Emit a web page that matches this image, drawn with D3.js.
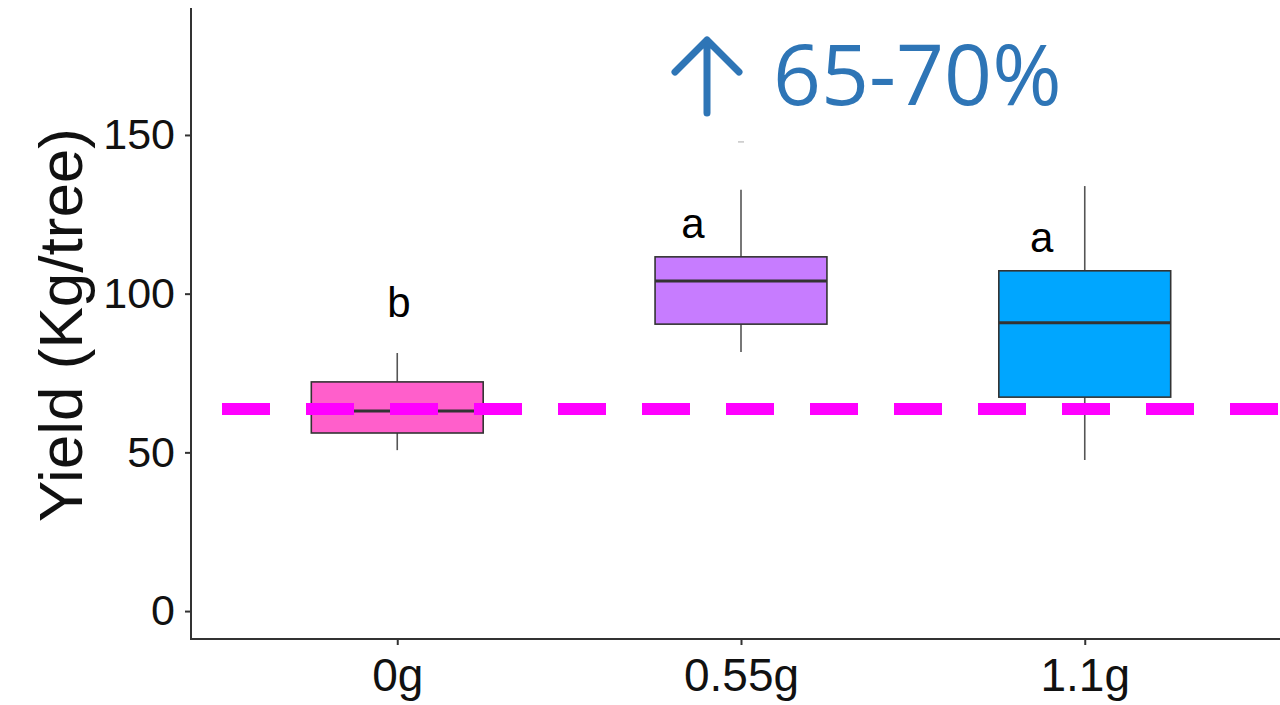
<!DOCTYPE html>
<html>
<head>
<meta charset="utf-8">
<script src="https://cdn.jsdelivr.net/npm/d3@7"></script>
<style>
  html, body { margin: 0; padding: 0; background: #fff; }
  svg { display: block; }
</style>
</head>
<body>
<svg id="chart" width="1280" height="705"></svg>
<script>
// ---- data ----
const categories = ["0g", "0.55g", "1.1g"];
const whiskerLow = [50.7, 81.6, 47.6];
const q1 = [56.1, 90.4, 67.4];
const medians = [63.0, 104.0, 90.8];
const q3 = [72.2, 111.6, 107.2];
const whiskerHigh = [81.3, 132.7, 133.9];
const outliers = [[], [147.8], []];
const boxColors = ["#FF5FCB", "#C77CFF", "#00A6FF"];
const letters = ["b", "a", "a"];
const letterY = [92.7, 117.6, 113.1];
const letterNudge = [0.005, -0.14, -0.125];
const yTicks = [0, 50, 100, 150];
const refLine = 63.7;
const annotation = "65-70%";

// ---- layout ----
const svg = d3.select("#chart");
const axisLeftX = 191, axisBottomY = 639, plotTop = 8;

const x = d3.scalePoint().domain(categories).range([191, 1291]).padding(0.6);
const step = x.step();
const boxW = step * 0.5;
const y = d3.scaleLinear().domain([-8.8, 190]).range([axisBottomY, plotTop]);

// boxes
const g = svg.append("g");
categories.forEach((c, i) => {
  const cx = x(c);
  // whiskers
  g.append("line").attr("x1", cx).attr("x2", cx)
    .attr("y1", y(q3[i])).attr("y2", y(whiskerHigh[i]))
    .attr("stroke", "#555").attr("stroke-width", 1.6);
  g.append("line").attr("x1", cx).attr("x2", cx)
    .attr("y1", y(q1[i])).attr("y2", y(whiskerLow[i]))
    .attr("stroke", "#555").attr("stroke-width", 1.6);
  // box
  g.append("rect")
    .attr("x", cx - boxW / 2).attr("width", boxW)
    .attr("y", y(q3[i])).attr("height", y(q1[i]) - y(q3[i]))
    .attr("fill", boxColors[i]).attr("stroke", "#333").attr("stroke-width", 1.6);
  // median
  g.append("line").attr("x1", cx - boxW / 2).attr("x2", cx + boxW / 2)
    .attr("y1", y(medians[i])).attr("y2", y(medians[i]))
    .attr("stroke", "#333").attr("stroke-width", 3);
  // outliers (tiny marks)
  outliers[i].forEach(v => {
    g.append("line").attr("x1", cx - 3).attr("x2", cx + 3)
      .attr("y1", y(v)).attr("y2", y(v))
      .attr("stroke", "#aaa").attr("stroke-width", 1);
  });
  // significance letters
  g.append("text")
    .attr("x", cx + letterNudge[i] * step)
    .attr("y", y(letterY[i]))
    .attr("text-anchor", "middle")
    .attr("font-family", "Liberation Sans, Arial, sans-serif")
    .attr("font-size", 42)
    .attr("fill", "#000")
    .text(letters[i]);
});

// reference dashed line
svg.append("line")
  .attr("x1", 222).attr("x2", 1280)
  .attr("y1", y(refLine)).attr("y2", y(refLine))
  .attr("stroke", "#FF00FF").attr("stroke-width", 12)
  .attr("stroke-dasharray", "48 36");

// axes
const yAxis = d3.axisLeft(y).tickValues(yTicks).tickSize(6).tickPadding(10);
const yG = svg.append("g").attr("transform", `translate(${axisLeftX},0)`).call(yAxis);
yG.select(".domain").remove();
yG.append("line").attr("x1", 0).attr("x2", 0).attr("y1", plotTop).attr("y2", axisBottomY + 1)
  .attr("stroke", "#333").attr("stroke-width", 2);
yG.selectAll(".tick line").attr("stroke", "#333").attr("stroke-width", 2);
yG.selectAll(".tick text")
  .attr("font-family", "Liberation Sans, Arial, sans-serif")
  .attr("font-size", 43).attr("fill", "#111");

const xAxis = d3.axisBottom(x).tickSize(6).tickPadding(13);
const xG = svg.append("g").attr("transform", `translate(0,${axisBottomY})`).call(xAxis);
xG.select(".domain").remove();
xG.append("line").attr("x1", axisLeftX - 1).attr("x2", 1280).attr("y1", 0).attr("y2", 0)
  .attr("stroke", "#333").attr("stroke-width", 2);
xG.selectAll(".tick line").attr("stroke", "#333").attr("stroke-width", 2);
xG.selectAll(".tick text")
  .attr("font-family", "Liberation Sans, Arial, sans-serif")
  .attr("font-size", 46).attr("fill", "#111");

// y title
svg.append("text")
  .attr("transform", "translate(82,325) rotate(-90)")
  .attr("text-anchor", "middle")
  .attr("font-family", "Liberation Sans, Arial, sans-serif")
  .attr("font-size", 62).attr("fill", "#111")
  .text("Yield (Kg/tree)");

// annotation: arrow + text
const blue = "#2E75B6";
const ann = svg.append("g");
ann.append("path")
  .attr("d", "M707,113 L707,40 M675,72 L707,40 L739,72")
  .attr("fill", "none").attr("stroke", blue).attr("stroke-width", 7)
  .attr("stroke-linecap", "round").attr("stroke-linejoin", "round");
ann.append("text")
  .attr("x", 773).attr("y", 105)
  .attr("font-family", "Open Sans, Noto Sans, sans-serif")
  .attr("font-size", 84).attr("fill", blue)
  .text(annotation);
</script>
</body>
</html>
